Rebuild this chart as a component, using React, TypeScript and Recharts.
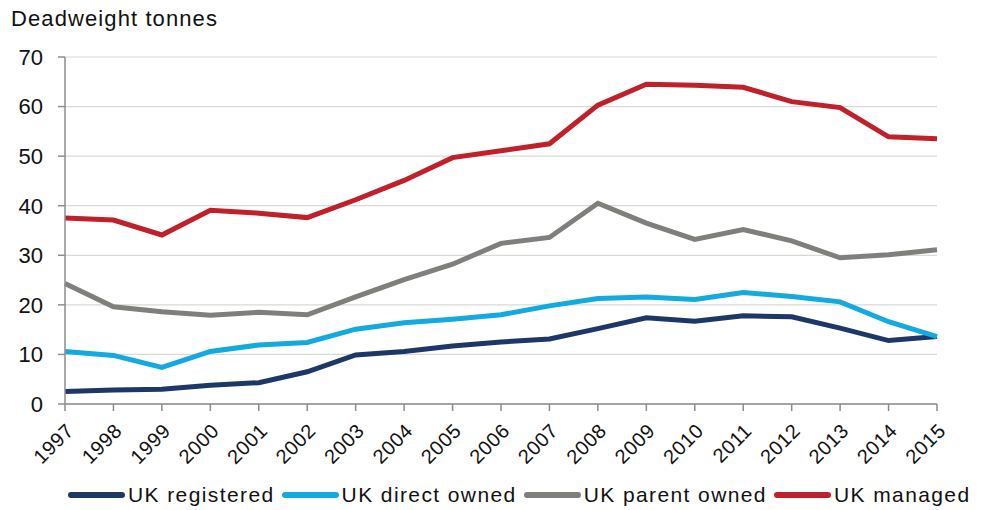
import { CartesianGrid, Line, LineChart, XAxis, YAxis } from 'recharts';

const years = [
  '1997', '1998', '1999', '2000', '2001', '2002', '2003', '2004', '2005', '2006',
  '2007', '2008', '2009', '2010', '2011', '2012', '2013', '2014', '2015',
];
const ukRegistered = [
  2.5, 2.8, 3.0, 3.8, 4.3, 6.5, 9.9, 10.6, 11.7, 12.5, 13.1, 15.2, 17.4, 16.7,
  17.8, 17.6, 15.3, 12.8, 13.6,
];
const ukDirectOwned = [
  10.6, 9.8, 7.4, 10.6, 11.9, 12.4, 15.1, 16.4, 17.1, 18.0, 19.8, 21.3, 21.6,
  21.1, 22.5, 21.7, 20.6, 16.6, 13.6,
];
const ukParentOwned = [
  24.3, 19.6, 18.6, 17.9, 18.5, 18.0, 21.6, 25.1, 28.2, 32.4, 33.6, 40.5, 36.5,
  33.2, 35.2, 32.9, 29.5, 30.1, 31.1,
];
const ukManaged = [
  37.5, 37.1, 34.1, 39.1, 38.5, 37.6, 41.2, 45.1, 49.7, 51.1, 52.5, 60.3, 64.5,
  64.3, 63.9, 61.0, 59.8, 53.9, 53.5,
];
const yTicks = [0, 10, 20, 30, 40, 50, 60, 70];

const series = [
  { key: 'registered', name: 'UK registered', color: '#1d3768' },
  { key: 'direct', name: 'UK direct owned', color: '#12aadf' },
  { key: 'parent', name: 'UK parent owned', color: '#7f7f7c' },
  { key: 'managed', name: 'UK managed', color: '#c0202a' },
];

const data = years.map((year, i) => ({
  year,
  registered: ukRegistered[i],
  direct: ukDirectOwned[i],
  parent: ukParentOwned[i],
  managed: ukManaged[i],
}));

const FONT = '"Liberation Sans", Arial, sans-serif';
const AXIS = '#8c8c8c';

const YearTick = ({ x, y, payload }: { x?: number; y?: number; payload?: { value: string } }) => {
  const tx = (x ?? 0) + 5;
  const ty = (y ?? 0) + 14;
  return (
    <text
      x={tx}
      y={ty}
      transform={`rotate(-45 ${tx} ${ty})`}
      textAnchor="end"
      dominantBaseline="central"
      fontSize={20}
      letterSpacing={0.6}
      fill="#111"
      fontFamily={FONT}
    >
      {payload?.value}
    </text>
  );
};

export default function App() {
  return (
    <div
      style={{
        position: 'absolute',
        left: 0,
        top: 0,
        width: 982,
        height: 510,
        background: '#fff',
        fontFamily: FONT,
      }}
    >
      <div
        style={{
          position: 'absolute',
          left: 11,
          top: 6,
          fontSize: 22,
          letterSpacing: 1.1,
          color: '#111',
        }}
      >
        Deadweight tonnes
      </div>

      <LineChart
        width={982}
        height={510}
        data={data}
        margin={{ top: 57, right: 45, left: 0, bottom: 0 }}
      >
        <CartesianGrid vertical={false} stroke="#d9d9d6" strokeWidth={1.2} />
        <XAxis
          dataKey="year"
          interval={0}
          height={106}
          tick={<YearTick />}
          tickSize={7}
          tickLine={{ stroke: AXIS, strokeWidth: 1.5 }}
          axisLine={{ stroke: AXIS, strokeWidth: 1.5 }}
        />
        <YAxis
          width={65}
          domain={[0, 70]}
          ticks={yTicks}
          interval={0}
          tickSize={7}
          tickMargin={15}
          tick={{ fill: '#111', fontSize: 22, fontFamily: FONT }}
          tickLine={{ stroke: AXIS, strokeWidth: 1.5 }}
          axisLine={{ stroke: AXIS, strokeWidth: 1.5 }}
        />
        {series.map((s) => (
          <Line
            key={s.key}
            type="linear"
            dataKey={s.key}
            name={s.name}
            stroke={s.color}
            strokeWidth={5}
            dot={false}
            activeDot={false}
            isAnimationActive={false}
          />
        ))}
      </LineChart>

      <div
        style={{
          position: 'absolute',
          left: 68,
          top: 483,
          display: 'flex',
          alignItems: 'center',
          fontSize: 21,
          letterSpacing: 1.4,
          color: '#111',
          whiteSpace: 'nowrap',
        }}
      >
        {series.map((s) => (
          <div key={s.key} style={{ display: 'flex', alignItems: 'center', marginRight: 7 }}>
            <span
              style={{
                display: 'inline-block',
                width: 57,
                height: 6,
                borderRadius: 3,
                background: s.color,
                marginRight: 3,
              }}
            />
            <span>{s.name}</span>
          </div>
        ))}
      </div>
    </div>
  );
}
